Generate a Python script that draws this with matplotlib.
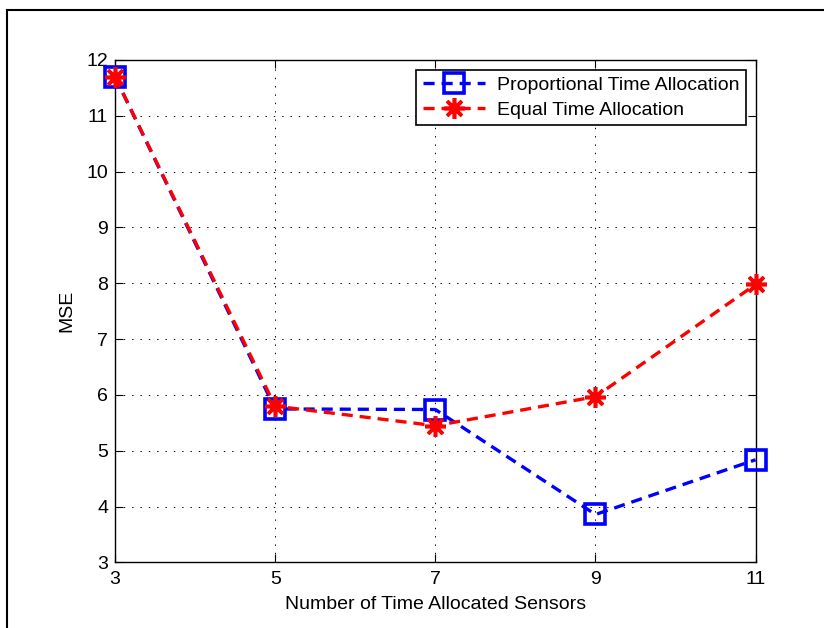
import numpy as np
import matplotlib
matplotlib.use("Agg")
import matplotlib.pyplot as plt
from matplotlib.lines import Line2D

# values
sensors = [3, 5, 7, 9, 11]
mse_proportional = [11.70, 5.75, 5.74, 3.86, 4.84]
mse_equal = [11.70, 5.80, 5.45, 5.97, 7.98]

plt.rcParams['font.family'] = ['Liberation Sans', 'DejaVu Sans']
plt.rcParams['font.size'] = 14
plt.rcParams['lines.scale_dashes'] = False

fig = plt.figure(figsize=(8.24, 6.28), dpi=100)
ax = fig.add_axes([0.1396, 0.1043, 0.7774, 0.8002])

ax.plot(sensors, mse_proportional, color='blue', lw=2.4, dashes=(8, 5),
        marker='s', markersize=14, markerfacecolor='none',
        markeredgewidth=2.6, label='Proportional Time Allocation',
        clip_on=False, zorder=3)
ax.plot(sensors, mse_equal, color='red', lw=2.4, dashes=(8, 5),
        marker=(8, 2, 0), markersize=15, markeredgewidth=2.6,
        label='Equal Time Allocation', clip_on=False, zorder=4)

ax.set_xlim(3, 11)
ax.set_ylim(3, 12)
ax.set_xticks([3, 5, 7, 9, 11])
ax.set_yticks(np.arange(3, 13, 1))
ax.tick_params(direction='in', top=True, right=True, length=6, width=0.8,
               labelsize=14, pad=6)
ax.tick_params(axis='y', pad=5)
ax.grid(True, linestyle=(0, (1, 5)), color='black', lw=0.7)
for s in ax.spines.values():
    s.set_linewidth(1.0)

ax.set_xlabel('Number of Time Allocated Sensors', fontsize=14, labelpad=6)
ax.set_ylabel('MSE', fontsize=14, labelpad=8)

leg = ax.legend(loc='upper right', handlelength=3.2, fancybox=False,
                framealpha=1, edgecolor='black', borderaxespad=0.5,
                handletextpad=0.6, borderpad=0.35, labelspacing=0.35)
leg.get_frame().set_linewidth(1.2)

# outer frame around the figure
fig.add_artist(Line2D([0.0085, 1.0], [0.984, 0.984], color='black', lw=1.5,
                      transform=fig.transFigure))
fig.add_artist(Line2D([0.0085, 0.0085], [0.0, 0.984], color='black', lw=1.5,
                      transform=fig.transFigure))

fig.savefig('out.png', dpi=100)
